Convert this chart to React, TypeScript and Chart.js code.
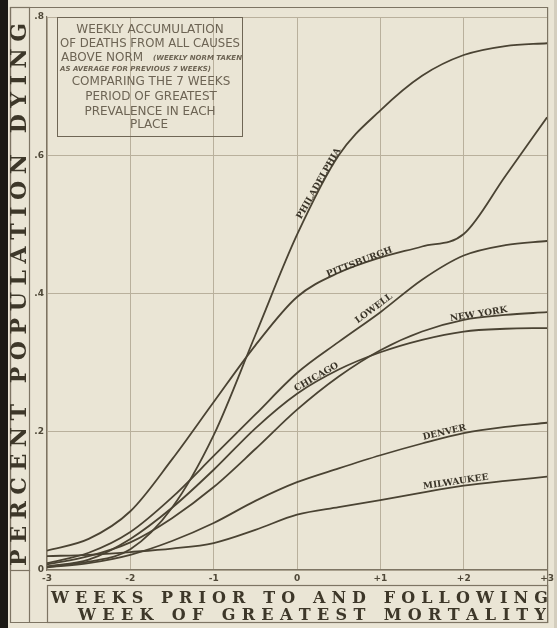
import React, { useEffect, useRef } from "react";
import { Chart, registerables } from "chart.js";

Chart.register(...registerables);

// ---------- DATA ----------
const weeks = [-3, -2.5, -2, -1.5, -1, -0.5, 0, 0.5, 1, 1.5, 2, 2.5, 3];
const xTicks = ["-3", "-2", "-1", "0", "+1", "+2", "+3"];
const yTicks = ["0", ".2", ".4", ".6", ".8"];

const philadelphia = [0.005, 0.012, 0.03, 0.09, 0.195, 0.34, 0.485, 0.6, 0.665, 0.715, 0.745, 0.758, 0.762];
const pittsburgh = [0.028, 0.045, 0.085, 0.16, 0.243, 0.325, 0.395, 0.43, 0.452, 0.468, 0.486, 0.57, 0.655];
const lowell = [0.01, 0.025, 0.055, 0.105, 0.165, 0.225, 0.285, 0.33, 0.373, 0.42, 0.455, 0.47, 0.476];
const chicago = [0.005, 0.015, 0.045, 0.09, 0.145, 0.205, 0.255, 0.29, 0.315, 0.333, 0.345, 0.349, 0.35];
const newYork = [0.008, 0.02, 0.04, 0.075, 0.12, 0.175, 0.232, 0.28, 0.318, 0.345, 0.362, 0.369, 0.373];
const denver = [0.004, 0.01, 0.022, 0.042, 0.068, 0.1, 0.127, 0.147, 0.166, 0.183, 0.198, 0.207, 0.213];
const milwaukee = [0.02, 0.022, 0.026, 0.031, 0.039, 0.058, 0.08, 0.091, 0.101, 0.112, 0.122, 0.129, 0.135];

const cityNames = ["PHILADELPHIA", "PITTSBURGH", "LOWELL", "CHICAGO", "NEW YORK", "DENVER", "MILWAUKEE"];
const cityValues = [philadelphia, pittsburgh, lowell, chicago, newYork, denver, milwaukee];

const yTitle = "PERCENT POPULATION DYING";
const xTitle1 = "WEEKS PRIOR TO AND FOLLOWING";
const xTitle2 = "WEEK OF GREATEST MORTALITY";

const noteLines = [
  "WEEKLY ACCUMULATION",
  "OF DEATHS FROM ALL CAUSES",
  "ABOVE NORM",
  "(WEEKLY NORM TAKEN",
  "AS AVERAGE FOR PREVIOUS 7 WEEKS)",
  "COMPARING THE 7 WEEKS",
  "PERIOD OF GREATEST",
  "PREVALENCE IN EACH",
  "PLACE",
];

// label placement along curves (week range)
const labelSpans = [
  [0.05, 0.6],
  [0.25, 1.3],
  [0.66, 1.27],
  [-0.08, 0.62],
  [1.72, 2.66],
  [1.4, 2.17],
  [1.37, 2.46],
];

// ---------- STYLE ----------
const PAPER = "#eae5d5";
const INK = "#4a4333";
const GRID = "#b9b09c";
const FRAME = "#7d7463";
const NOTE = "#6d6454";

function interp(vals: number[], w: number) {
  for (let i = 0; i < weeks.length - 1; i++) {
    if (w >= weeks[i] && w <= weeks[i + 1]) {
      const t = (w - weeks[i]) / (weeks[i + 1] - weeks[i]);
      return vals[i] + t * (vals[i + 1] - vals[i]);
    }
  }
  return vals[vals.length - 1];
}

function spaced(ctx: CanvasRenderingContext2D, text: string, x0: number, x1: number, y: number) {
  const chars = text.split("");
  const widths = chars.map((c) => ctx.measureText(c).width);
  const natural = widths.reduce((a, b) => a + b, 0);
  const gap = chars.length > 1 ? (x1 - x0 - natural) / (chars.length - 1) : 0;
  let x = x0;
  ctx.textAlign = "left";
  chars.forEach((c, i) => {
    ctx.fillText(c, x, y);
    x += widths[i] + gap;
  });
}

const decorPlugin = {
  id: "decor",
  beforeDraw(chart: any) {
    const ctx = chart.ctx as CanvasRenderingContext2D;
    ctx.save();
    ctx.fillStyle = PAPER;
    ctx.fillRect(0, 0, chart.width, chart.height);
    ctx.fillStyle = "#1a1814";
    ctx.fillRect(0, 0, 8, chart.height);
    ctx.fillStyle = "#d4cebe";
    ctx.fillRect(554, 0, 3, chart.height);
    ctx.restore();
  },
  afterDraw(chart: any) {
    const ctx = chart.ctx as CanvasRenderingContext2D;
    const xs = chart.scales.x;
    const ys = chart.scales.y;
    const L = chart.chartArea.left;
    const R = chart.chartArea.right;
    const B = chart.chartArea.bottom;
    ctx.save();
    // frames
    ctx.strokeStyle = FRAME;
    ctx.lineWidth = 1.2;
    ctx.beginPath();
    ctx.moveTo(10.5, 7.5);
    ctx.lineTo(R + 0.5, 7.5);
    ctx.lineTo(R + 0.5, 622.5);
    ctx.lineTo(10.5, 622.5);
    ctx.closePath();
    ctx.stroke();
    ctx.strokeRect(10.5, 7.5, 19, B - 7);
    ctx.beginPath();
    ctx.moveTo(29.5, B);
    ctx.lineTo(29.5, 622.5);
    ctx.stroke();
    ctx.strokeRect(L + 0.5, 585.5, R - L, 37);

    // y title
    ctx.fillStyle = "#3d3729";
    ctx.font = "bold 22px 'DejaVu Serif', serif";
    ctx.textBaseline = "middle";
    ctx.save();
    ctx.translate(20, 0);
    ctx.rotate(-Math.PI / 2);
    spaced(ctx, yTitle, -566, -23, 0);
    ctx.restore();

    // x title
    ctx.font = "bold 16px 'DejaVu Serif', serif";
    ctx.textBaseline = "alphabetic";
    spaced(ctx, xTitle1, 51, 548, 603);
    spaced(ctx, xTitle2, 78, 546, 620);

    // note box
    ctx.strokeStyle = "#6f6655";
    ctx.lineWidth = 1;
    ctx.strokeRect(57.5, 17.5, 185, 119);
    ctx.fillStyle = NOTE;
    ctx.textBaseline = "middle";
    ctx.textAlign = "center";
    const nf = "'DejaVu Sans', sans-serif";
    ctx.font = `12px ${nf}`;
    ctx.fillText(noteLines[0], 150, 30, 176);
    ctx.fillText(noteLines[1], 150, 44, 180);
    ctx.textAlign = "left";
    ctx.fillText(noteLines[2], 61, 58, 90);
    ctx.font = `bold italic 7px ${nf}`;
    ctx.fillText(noteLines[3], 153, 58, 89);
    ctx.fillText(noteLines[4], 60, 69, 180);
    ctx.textAlign = "center";
    ctx.font = `12px ${nf}`;
    ctx.fillText(noteLines[5], 151, 82, 176);
    ctx.fillText(noteLines[6], 151, 97, 172);
    ctx.fillText(noteLines[7], 150, 112, 176);
    ctx.fillText(noteLines[8], 149, 125, 54);

    // curve labels
    ctx.fillStyle = "#3a3428";
    ctx.font = "bold 9px 'DejaVu Serif', serif";
    ctx.textAlign = "center";
    ctx.textBaseline = "middle";
    cityNames.forEach((name, i) => {
      const [a, b] = labelSpans[i];
      const x1 = xs.getPixelForValue(a);
      const y1 = ys.getPixelForValue(interp(cityValues[i], a));
      const x2 = xs.getPixelForValue(b);
      const y2 = ys.getPixelForValue(interp(cityValues[i], b));
      const ang = Math.atan2(y2 - y1, x2 - x1);
      const len = Math.hypot(x2 - x1, y2 - y1);
      const mx = (x1 + x2) / 2 + Math.sin(ang) * 6;
      const my = (y1 + y2) / 2 - Math.cos(ang) * 6;
      ctx.save();
      ctx.translate(mx, my);
      ctx.rotate(ang);
      ctx.fillText(name, 0, 0, len);
      ctx.restore();
    });
    ctx.restore();
  },
};

export default function App() {
  const ref = useRef<HTMLCanvasElement | null>(null);
  useEffect(() => {
    if (!ref.current) return;
    const chart = new Chart(ref.current, {
      type: "line",
      data: {
        datasets: cityNames.map((name, i) => ({
          label: name,
          data: weeks.map((w, j) => ({ x: w, y: cityValues[i][j] })),
          borderColor: INK,
          borderWidth: 1.8,
          pointRadius: 0,
          fill: false,
          cubicInterpolationMode: "monotone" as const,
        })),
      },
      options: {
        animation: false,
        responsive: false,
        devicePixelRatio: 1,
        layout: { padding: { top: 17, right: 4, left: 0, bottom: 0 } },
        plugins: { legend: { display: false }, tooltip: { enabled: false } },
        scales: {
          x: {
            type: "linear",
            min: -3,
            max: 3,
            afterFit: (s: any) => {
              s.height = 58;
            },
            ticks: {
              stepSize: 1,
              maxRotation: 0,
              padding: 3,
              color: "#4f4838",
              font: { family: "'DejaVu Sans', sans-serif", size: 9, weight: "bold" },
              callback: (v: any) => xTicks[Math.round(Number(v)) + 3] ?? "",
            },
            grid: { color: GRID, lineWidth: 1, drawTicks: false },
            border: { color: FRAME, width: 1.2 },
          },
          y: {
            type: "linear",
            min: 0,
            max: 0.8,
            afterFit: (s: any) => {
              s.width = 47;
            },
            ticks: {
              stepSize: 0.2,
              padding: 3,
              color: "#4f4838",
              font: { family: "'DejaVu Sans', sans-serif", size: 9, weight: "bold" },
              callback: (v: any) => yTicks[Math.round(Number(v) * 5)] ?? "",
            },
            grid: { color: GRID, lineWidth: 1, drawTicks: false },
            border: { color: FRAME, width: 1.2 },
          },
        },
      },
      plugins: [decorPlugin],
    });
    return () => chart.destroy();
  }, []);
  return (
    <div style={{ position: "fixed", left: 0, top: 0, width: 557, height: 628, background: PAPER }}>
      <canvas ref={ref} width={557} height={628} style={{ display: "block", width: 557, height: 628 }} />
    </div>
  );
}
